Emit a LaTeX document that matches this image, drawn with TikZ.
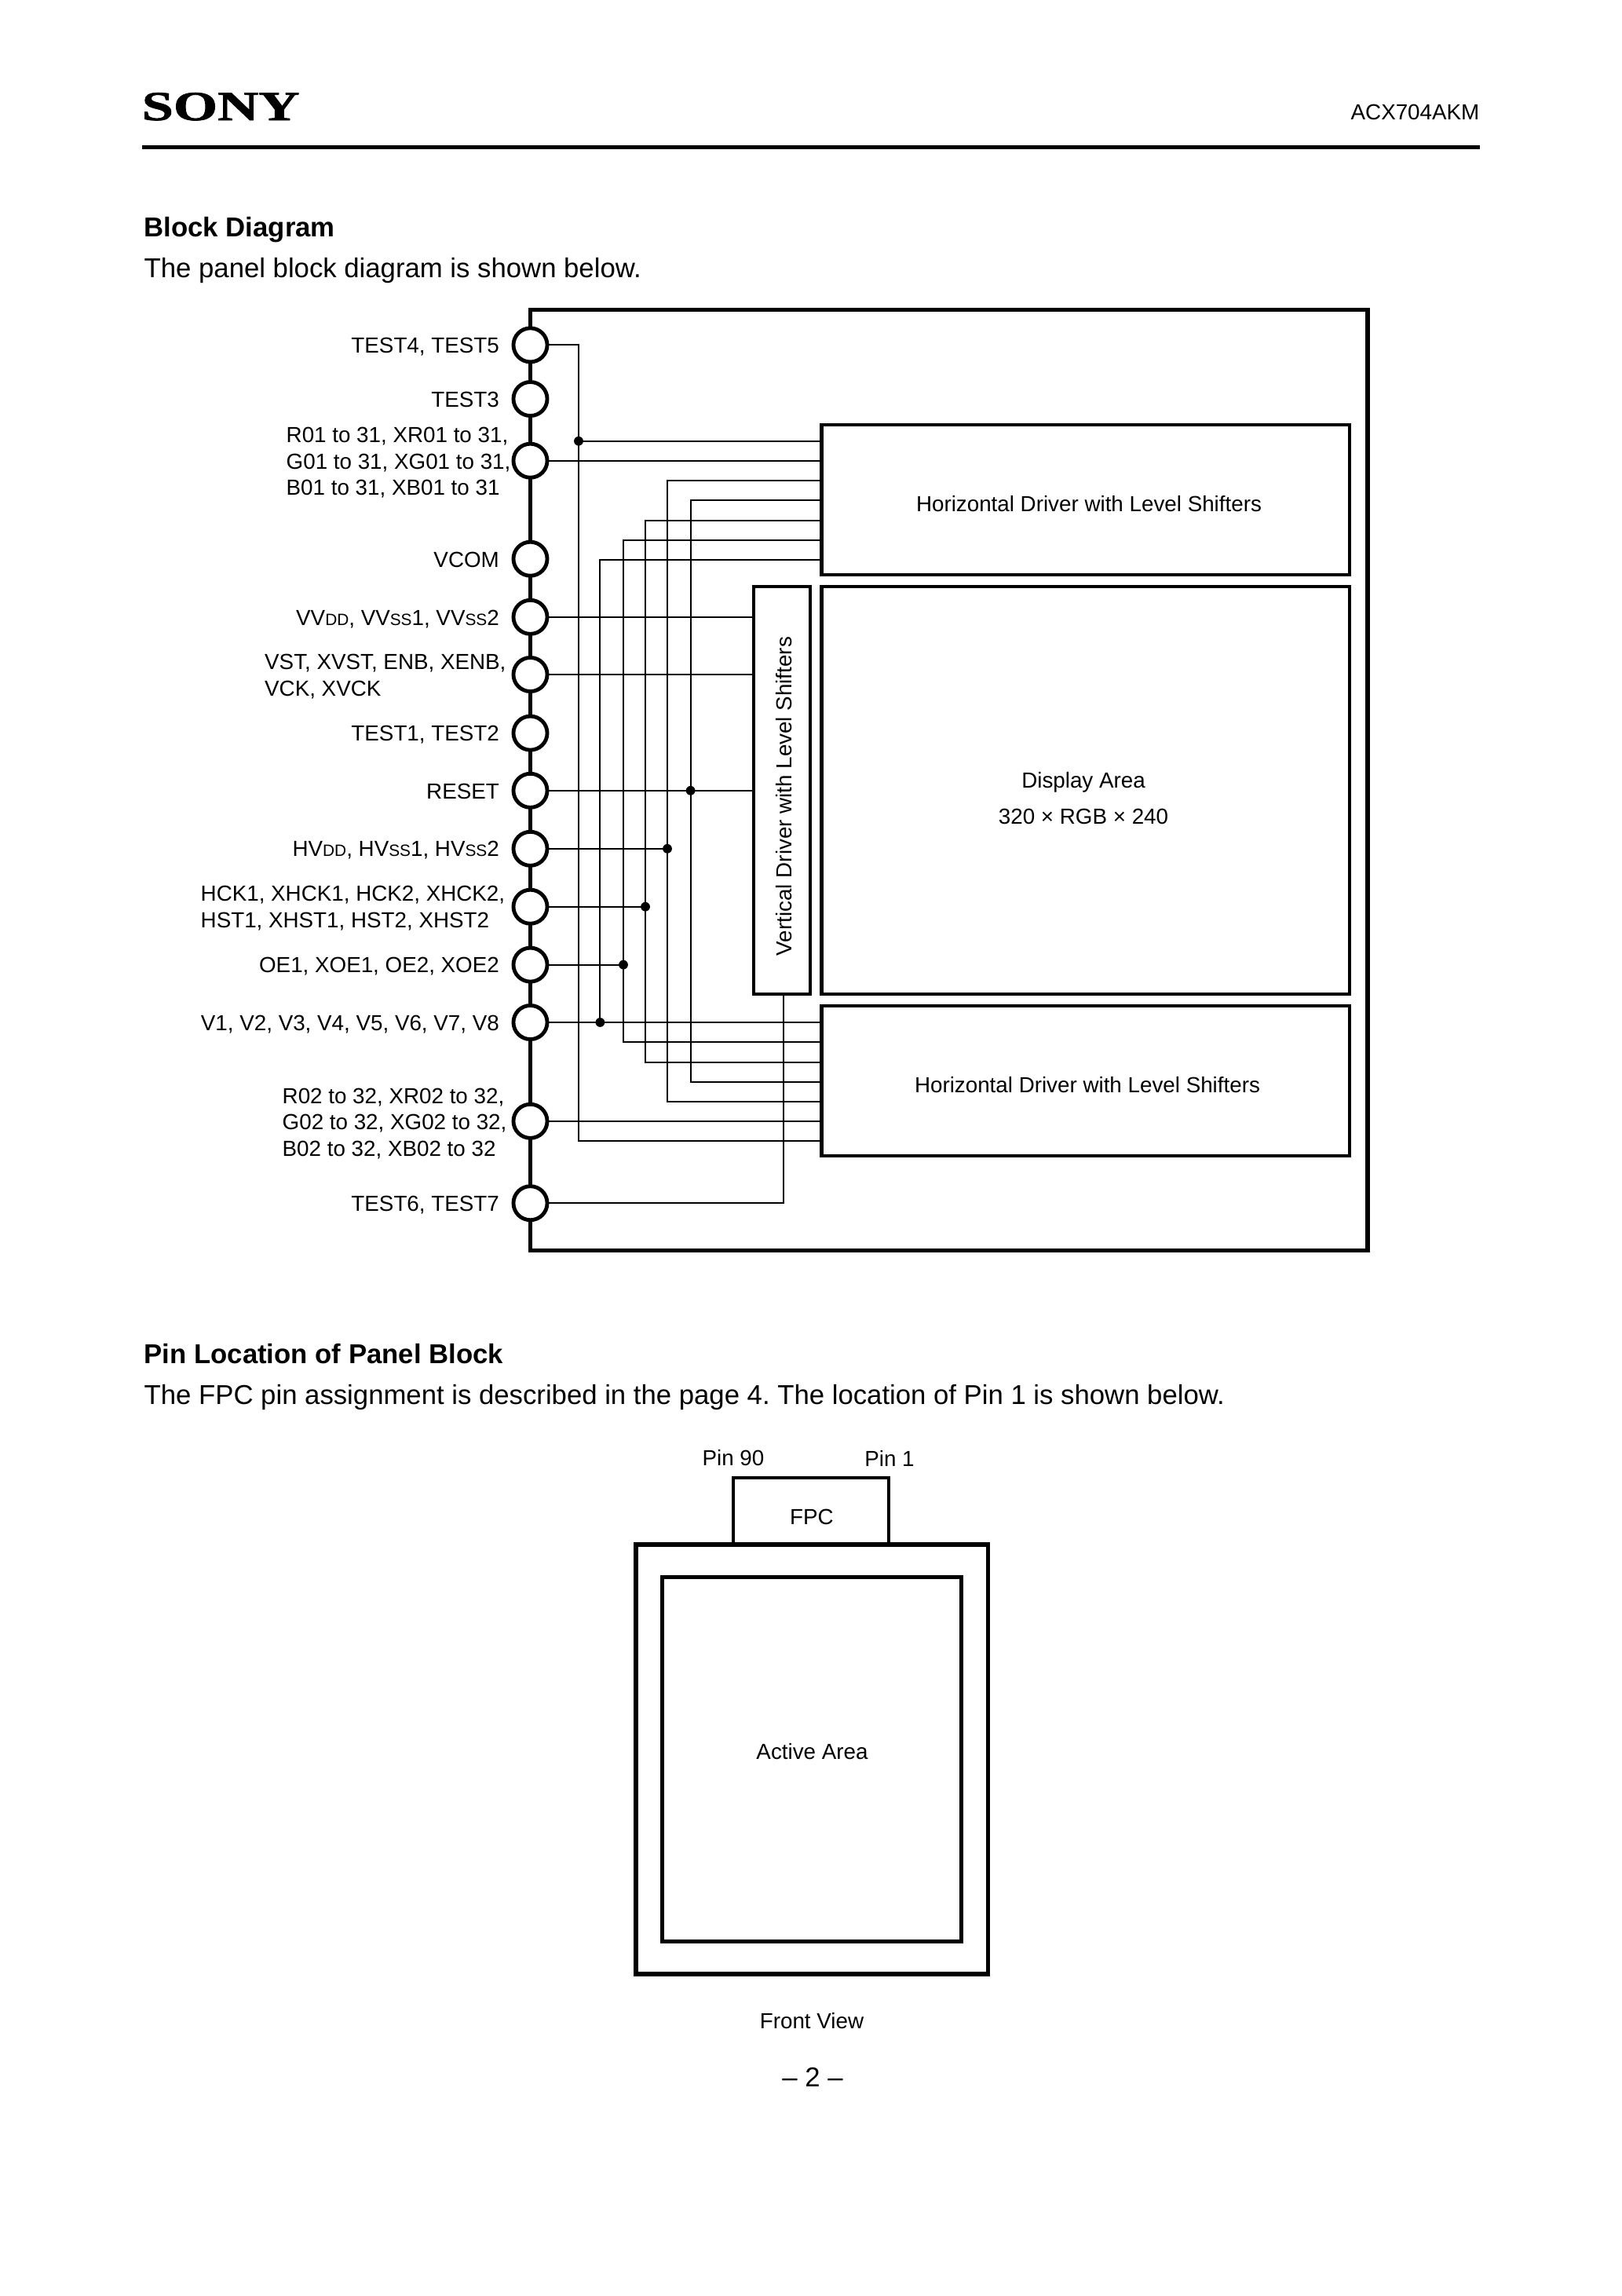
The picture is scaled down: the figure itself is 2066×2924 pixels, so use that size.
\documentclass[tikz,border=0pt]{standalone}
\usepackage{fontspec}
\setmainfont{Liberation Sans}
\newfontfamily\logofont[FakeBold=1.2]{Liberation Serif Bold}
\newcommand{\lsize}{\fontsize{8}{9.65}\selectfont}
\newcommand{\bsize}{\fontsize{10}{12}\selectfont}
\newcommand{\smc}[1]{{\fontsize{6}{6}\selectfont #1}}
\frenchspacing
\tikzset{
  x=0.288pt,y=-0.288pt,
  pinc/.style={circle,draw,fill=white,line width=1.4pt,inner sep=0pt,outer sep=0pt,minimum size=12.4pt},
  wire/.style={line width=0.6pt},
  frm/.style={line width=1.5pt},
  blk/.style={draw,line width=1.2pt,inner sep=0pt,outer sep=0pt,anchor=north west},
  jn/.style={circle,fill=black,inner sep=0pt,outer sep=0pt,minimum size=3.4pt},
  lab/.style={font=\lsize,inner sep=0pt,anchor=base east},
  mlab/.style={font=\lsize,inner sep=0pt,anchor=west,align=left},
  txt/.style={font=\lsize,inner sep=0pt},
  bodyt/.style={font=\bsize,inner sep=0pt,anchor=base west},
}
\newcommand{\blockat}[6][]{%
  \pgfmathsetmacro{\bw}{(#5-#3)*0.288}%
  \pgfmathsetmacro{\bh}{(#6-#4)*0.288}%
  \node[blk,#1,minimum width=\bw pt,minimum height=\bh pt] (#2) at (#3,#4) {};}
\begin{document}
\begin{tikzpicture}
\useasboundingbox (0,0) rectangle (2066,2924);
% header
\node[inner sep=0pt,anchor=base west] (logo) at (180,153) {\scalebox{1.37}[1]{\fontsize{15.2}{16}\logofont SONY}};
\node[txt,anchor=base east] (part) at (1885,152) {ACX704AKM};
\coordinate (ruleL) at (181,187.5);
\coordinate (ruleR) at (1885,187.5);
\draw[line width=1.45pt] (ruleL) -- (ruleR);
\node[bodyt] (t1) at (183,301) {\bfseries Block Diagram};
\node[bodyt] (t2) at (183,353) {The panel block diagram is shown below.};
\node[bodyt] (t3) at (183,1736.5) {\bfseries Pin Location of Panel Block};
\node[bodyt] (t4) at (183,1788) {The FPC pin assignment is described in the page 4. The location of Pin 1 is shown below.};
% outer frame
\blockat[frm]{outer}{675.5}{394.7}{1742}{1592.2}{}
% blocks
\blockat{htop}{1046.5}{540.7}{1719}{731.8}{}
\blockat{disp}{1046.5}{747}{1719}{1266}{}
\blockat{vdrv}{959.7}{747}{1032}{1266}{}
\blockat{hbot}{1046.5}{1280.8}{1719}{1471.8}{}
\node[txt] (htopt) at (1387,642) {Horizontal Driver with Level Shifters};
\node[txt] (hbott) at (1385,1382) {Horizontal Driver with Level Shifters};
\node[txt] (d1t) at (1380,996) {Display Area};
\node[txt] (d2t) at (1380,1039.5) {320 × RGB × 240};
\node[txt,rotate=90] (vt) at (998.5,1014) {Vertical Driver with Level Shifters};
% pins
\foreach \n/\y in {a/439.4,b/508,c/586.7,d/711.7,e/785.8,f/859,g/933.6,h/1006.8,i/1080.8,j/1154.7,k/1228.6,l/1302,m/1427.8,n/1532.2}{
  \node[pinc] (\n) at (675.5,\y) {};
}
% junctions
\node[jn] (ja) at (737,561.7) {};
\node[jn] (jh) at (879.6,1006.8) {};
\node[jn] (ji) at (850,1080.8) {};
\node[jn] (jj) at (822,1154.7) {};
\node[jn] (jk) at (794,1228.6) {};
\node[jn] (jl) at (764.4,1302) {};
% wires
\draw[wire] (a.east) -| (ja.center) |- (hbot.west |- 0,1452.7);
\draw[wire] (ja.center) -- (htop.west |- ja);
\draw[wire] (c.east) -- (htop.west |- c);
\draw[wire] (m.east) -- (hbot.west |- m);
\draw[wire] (e.east) -- (vdrv.west |- e);
\draw[wire] (f.east) -- (vdrv.west |- f);
\draw[wire] (h.east) -- (vdrv.west |- h);
\draw[wire] (i.east) -- (ji.center);
\draw[wire] (j.east) -- (jj.center);
\draw[wire] (k.east) -- (jk.center);
\draw[wire] (l.east) -- (hbot.west |- l);
\draw[wire] (htop.west |- 0,611.7) -| (ji.center) |- (hbot.west |- 0,1402.9);
\draw[wire] (htop.west |- 0,636.7) -| (jh.center) |- (hbot.west |- 0,1378);
\draw[wire] (htop.west |- 0,662.6) -| (jj.center) |- (hbot.west |- 0,1352.6);
\draw[wire] (htop.west |- 0,687.6) -| (jk.center) |- (hbot.west |- 0,1327.3);
\draw[wire] (htop.west |- 0,712.6) -| (jl.center);
\draw[wire] (n.east) -| (vdrv.south -| 998,0);
% pin labels
\node[lab] (la) at (636.5,449.5) {TEST4, TEST5};
\node[lab] (lb) at (636.5,518) {TEST3};
\node[mlab] (lc) at (364,589.5) {R01 to 31, XR01 to 31,\\G01 to 31, XG01 to 31,\\B01 to 31, XB01 to 31};
\node[lab] (ld) at (636.5,722) {VCOM};
\node[lab] (le) at (636.5,796) {VV\smc{DD}, VV\smc{SS}1, VV\smc{SS}2};
\node[mlab] (lf) at (336.5,861.5) {VST, XVST, ENB, XENB,\\VCK, XVCK};
\node[lab] (lg) at (636.5,943.5) {TEST1, TEST2};
\node[lab] (lh) at (636.5,1017) {RESET};
\node[lab] (li) at (636.5,1090.5) {HV\smc{DD}, HV\smc{SS}1, HV\smc{SS}2};
\node[mlab] (lj) at (255,1156.5) {HCK1, XHCK1, HCK2, XHCK2,\\HST1, XHST1, HST2, XHST2};
\node[lab] (lk) at (636.5,1238.5) {OE1, XOE1, OE2, XOE2};
\node[lab] (ll) at (636.5,1312) {V1, V2, V3, V4, V5, V6, V7, V8};
\node[mlab] (lm) at (359,1431) {R02 to 32, XR02 to 32,\\G02 to 32, XG02 to 32,\\B02 to 32, XB02 to 32};
\node[lab] (ln) at (636.5,1542) {TEST6, TEST7};
% lower drawing
\blockat{fpc}{934}{1882}{1132}{1967}{}
\blockat[frm]{pkg}{810}{1967}{1258.5}{2514}{}
\blockat{act}{843.5}{2008.5}{1224.5}{2472.5}{}
\node[txt] (p90) at (934,1857) {Pin 90};
\node[txt] (p1) at (1133,1857) {Pin 1};
\node[txt] (fpct) at (1034,1932) {FPC};
\node[txt] (actt) at (1034.5,2231) {Active Area};
\node[txt] (front) at (1034,2573.5) {Front View};
\node[inner sep=0pt,font=\bsize] (pg) at (1035,2645) {– 2 –};
\end{tikzpicture}
\end{document}
